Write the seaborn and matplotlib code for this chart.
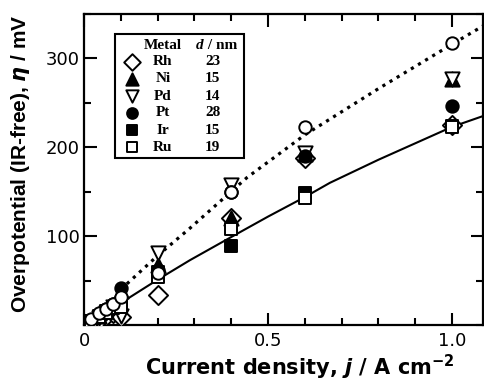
import numpy as np
import pandas as pd
import matplotlib
matplotlib.use("Agg")
import matplotlib.pyplot as plt
import seaborn as sns
from matplotlib.patches import Rectangle
from matplotlib.ticker import MultipleLocator, FixedLocator

# current densities (A cm-2) and overpotentials (mV)
j_vals = [0.02, 0.04, 0.06, 0.08, 0.1, 0.2, 0.4, 0.6, 1.0]
eta_Rh = [2, 6, 10, 14, 9, 34, 120, 188, 225]
eta_Ni = [4, 10, 16, 22, 38, 68, 120, 192, 277]
eta_Pd = [3, 8, 14, 20, 10, 81, 157, 194, 277]
eta_Pt = [6, 12, 18, 24, 42, 62, 150, 190, 246]
eta_Ir = [5, 10, 16, 20, 24, 60, 89, 149, 224]
eta_Ru = [4, 9, 14, 19, 20, 54, 108, 143, 223]
eta_ref = [7, 13, 18, 24, 32, 58, 150, 223, 317]  # open circles (no legend entry)

metals = ["Rh", "Ni", "Pd", "Pt", "Ir", "Ru"]
diameters = [23, 15, 14, 28, 15, 19]

# guide curves
solid_j = [0.12, 0.2, 0.288, 0.4, 0.5, 0.6, 0.668, 0.8, 1.0, 1.09]
solid_eta = [30, 51, 73, 99, 122, 144, 160, 186, 223, 236]
dot_j = [0.1, 0.2, 0.288, 0.443, 0.6, 0.8, 1.0, 1.09]
dot_eta = [40, 78, 109, 166, 214, 266, 316, 338]

plt.rcParams["font.family"] = ["DejaVu Sans"]
plt.rcParams["mathtext.fontset"] = "custom"
plt.rcParams["mathtext.rm"] = "DejaVu Sans:bold"
plt.rcParams["mathtext.it"] = "DejaVu Sans:bold:italic"

fig = plt.figure(figsize=(4.84, 3.83), dpi=100)
ax = fig.add_axes([84 / 484, 58 / 383, 399 / 484, 311 / 383])

sns.lineplot(x=solid_j, y=solid_eta, color="black", lw=1.5, estimator=None, sort=False, ax=ax, zorder=1)
sns.lineplot(x=dot_j, y=dot_eta, color="black", lw=2.3, estimator=None, sort=False, ax=ax, zorder=1,
             linestyle=(0, (1, 1.6)))

series = {"Rh": eta_Rh, "Ni": eta_Ni, "Pd": eta_Pd, "Pt": eta_Pt, "Ir": eta_Ir, "Ru": eta_Ru}
style = {
    "Rh": ("D", "white", 95),
    "Ni": ("^", "black", 105),
    "Pd": ("v", "white", 105),
    "Pt": ("o", "black", 80),
    "Ir": ("s", "black", 80),
    "Ru": ("s", "white", 80),
}
for m in metals:
    mk, fc, s = style[m]
    sns.scatterplot(x=j_vals, y=series[m], marker=mk, color=fc, edgecolor="black",
                    linewidth=1.4, s=s, ax=ax, zorder=3)
sns.scatterplot(x=j_vals, y=eta_ref, marker="o", color="white", edgecolor="black",
                linewidth=1.4, s=80, ax=ax, zorder=4)

ax.set_xlim(0, 1.084)
ax.set_ylim(0, 350)
ax.xaxis.set_major_locator(FixedLocator([0, 0.5, 1.0]))
ax.set_xticklabels(["0", "0.5", "1.0"])
ax.xaxis.set_minor_locator(MultipleLocator(0.1))
ax.yaxis.set_major_locator(FixedLocator([100, 200, 300]))
ax.yaxis.set_minor_locator(MultipleLocator(50))
ax.tick_params(which="both", direction="in", top=True, right=True, width=1.5, labelsize=13)
ax.tick_params(which="major", length=9)
ax.tick_params(which="minor", length=5)
ax.tick_params(axis="x", pad=5)
ax.tick_params(axis="y", pad=3)
for sp in ax.spines.values():
    sp.set_linewidth(1.6)

ax.set_xlabel(r"Current density, $j$ / A cm$^{-2}$", fontsize=15, fontweight="bold")
ax.set_ylabel(r"Overpotential (IR-free), $\eta$ / mV", fontsize=15, fontweight="bold",
              family=["Liberation Sans", "DejaVu Sans"])
ax.xaxis.set_label_coords(0.54, -0.09)
ax.yaxis.set_label_coords(-0.13, 0.52)

# legend table
ax.add_patch(Rectangle((0.0775, 0.537), 0.3225, 0.399, transform=ax.transAxes,
                       facecolor="white", edgecolor="black", lw=1.5, zorder=5))
serif = ["Liberation Serif", "DejaVu Serif"]
ax.text(0.1975, 0.900, "Metal", transform=ax.transAxes, ha="center", va="center",
        family=serif, fontweight="bold", fontsize=11, zorder=6)
ax.text(0.300, 0.900, "d", transform=ax.transAxes, ha="right", va="center",
        family=serif, fontweight="bold", style="italic", fontsize=11, zorder=6)
ax.text(0.300, 0.900, " / nm", transform=ax.transAxes, ha="left", va="center",
        family=serif, fontweight="bold", fontsize=11, zorder=6)
rows_y = [0.846, 0.791, 0.736, 0.682, 0.627, 0.572]
for m, d, yy in zip(metals, diameters, rows_y):
    mk, fc, s = style[m]
    ax.scatter([0.12], [yy], marker=mk, s=s * 0.75, facecolor=fc, edgecolor="black",
               linewidth=1.4, transform=ax.transAxes, zorder=6, clip_on=False)
    ax.text(0.1975, yy, m, transform=ax.transAxes, ha="center", va="center",
            family=serif, fontweight="bold", fontsize=11, zorder=6)
    ax.text(0.3225, yy, str(d), transform=ax.transAxes, ha="center", va="center",
            family=serif, fontweight="bold", fontsize=11, zorder=6)

fig.savefig("out.png", dpi=100)
